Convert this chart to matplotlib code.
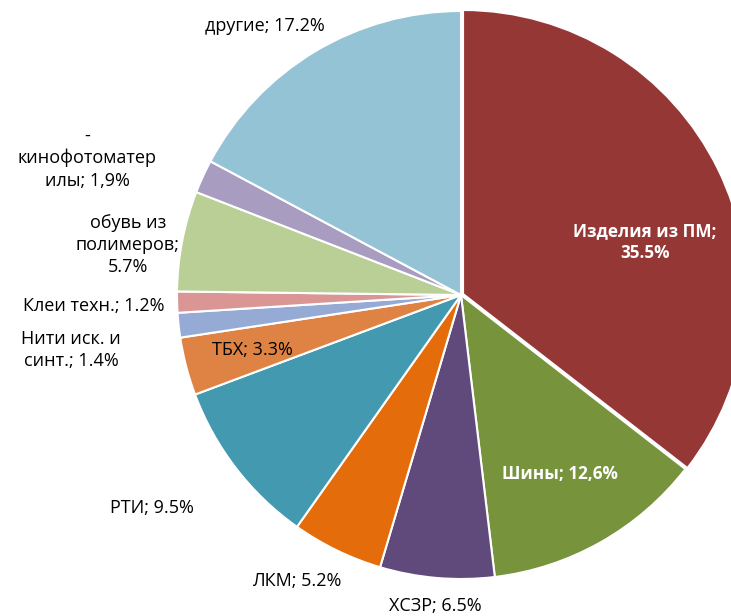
import matplotlib.pyplot as plt

# Данные (по часовой стрелке от 12 часов)
labels = ['Изделия из ПМ;\n35.5%', 'Шины; 12,6%', 'ХСЗР; 6.5%', 'ЛКМ; 5.2%', 'РТИ; 9.5%',
          'ТБХ; 3.3%', 'Нити иск. и\nсинт.; 1.4%', 'Клеи техн.; 1.2%',
          'обувь из\nполимеров;\n5.7%', '-\nкинофотоматер\nилы; 1,9%', 'другие; 17.2%']
values = [35.5, 12.6, 6.5, 5.2, 9.5, 3.3, 1.4, 1.2, 5.7, 1.9, 17.2]
colors = ['#953735', '#77933C', '#604A7B', '#E46C0A', '#4299B0', '#DF8344',
          '#95ABD6', '#D99694', '#B9CF96', '#A89CC0', '#93C3D5']

# Положение подписей в пикселях (x, y от верха)
label_px = [(645, 242), (560, 474), (435, 606), (297, 581), (152, 508), (252, 350),
            (71, 350), (94, 306), (128, 245), (87, 158), (265, 26)]
white_bold = {0, 1}

W, H = 731, 616
CX, CY, R = 461, 295, 284

fig = plt.figure(figsize=(W / 100, H / 100), dpi=100)
ax = fig.add_axes([0, 0, 1, 1])

explode = [0.008] + [0] * (len(values) - 1)
ax.pie(values, colors=colors, startangle=90, counterclock=False, radius=1.0,
       explode=explode, wedgeprops=dict(edgecolor='white', linewidth=1.5))

ax.set_xlim(-CX / R, (W - CX) / R)
ax.set_ylim(-(H - CY) / R, CY / R)
ax.set_aspect('equal')
ax.axis('off')

for i, (lab, (px, py)) in enumerate(zip(labels, label_px)):
    x = (px - CX) / R
    y = (CY - py) / R
    if i in white_bold:
        ax.text(x, y, lab, ha='center', va='center', fontsize=12.3, color='white',
                fontweight='bold', family='Open Sans', linespacing=1.3)
    else:
        ax.text(x, y, lab, ha='center', va='center', fontsize=13, color='black',
                family='Open Sans', linespacing=1.3)

plt.savefig('out.png', dpi=100)
